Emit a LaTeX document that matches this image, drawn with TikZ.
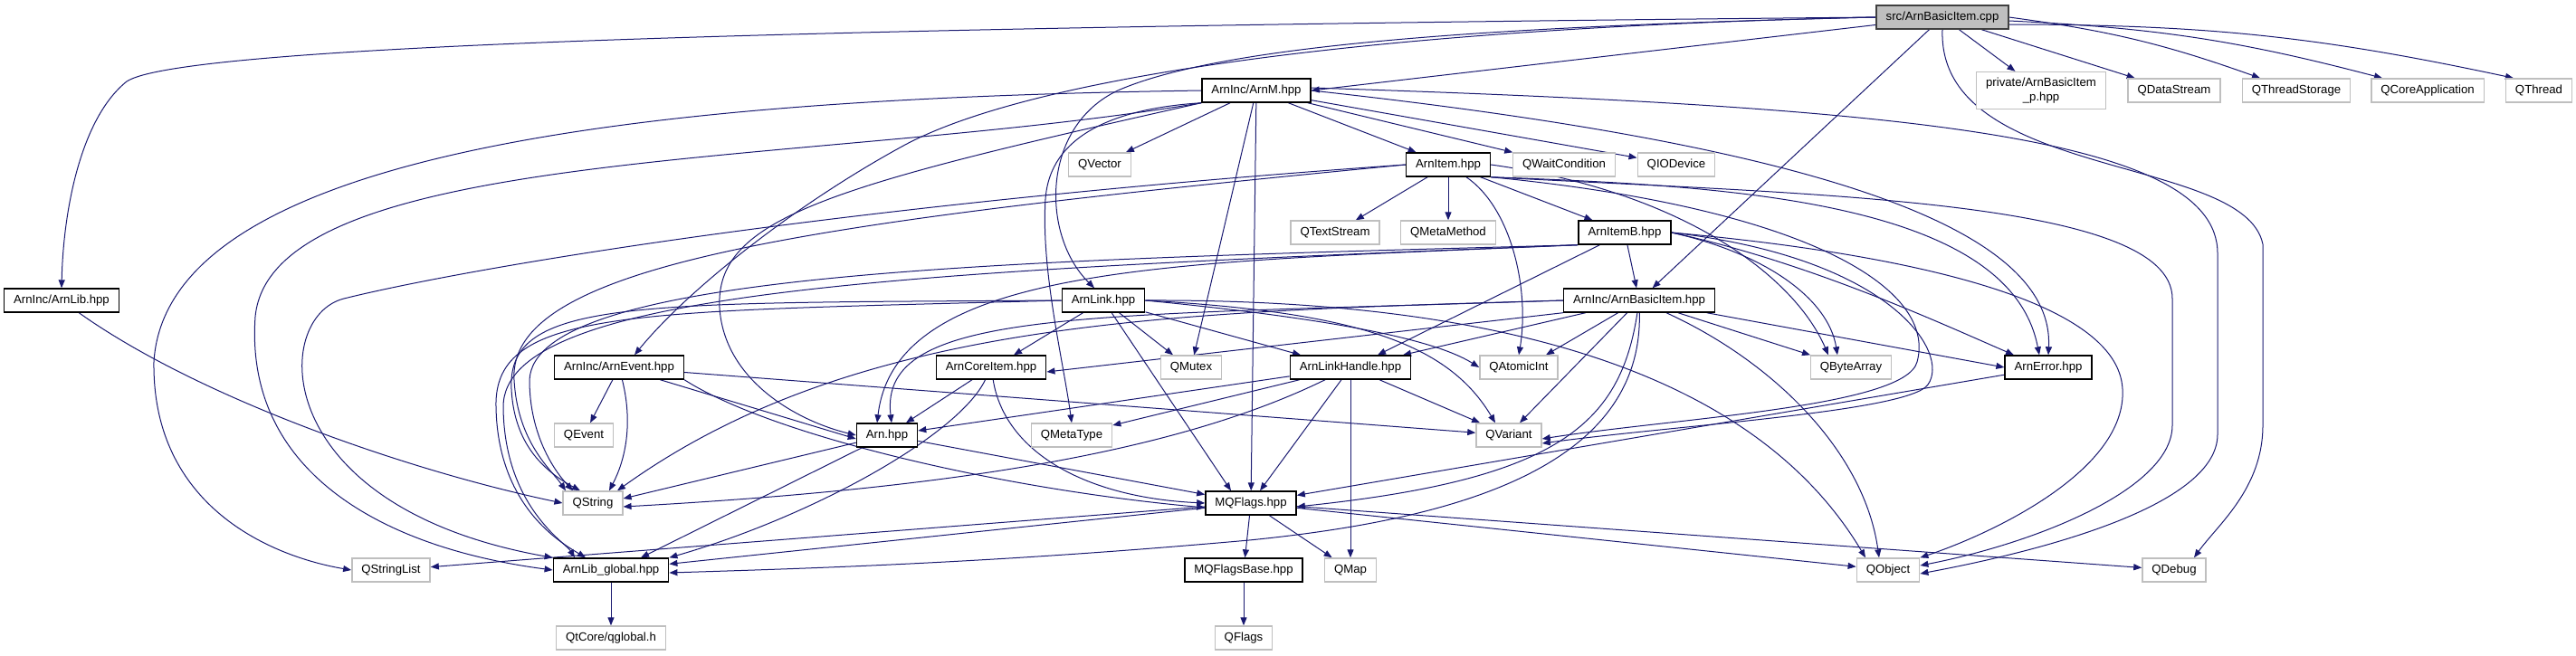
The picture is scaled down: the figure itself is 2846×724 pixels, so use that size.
\documentclass[tikz,border=0pt]{standalone}
\usepackage{fontspec}
\setmainfont{Liberation Sans}
\usepackage{xcolor}
\usetikzlibrary{arrows.meta, backgrounds}

\definecolor{edgeblue}{HTML}{191970}
\definecolor{boxgrey}{HTML}{BFBFBF}
\definecolor{rootline}{HTML}{404040}

\begin{document}
\begin{tikzpicture}[
    x=1pt, y=-1pt,
    every node/.style={font=\fontsize{13.2}{15.5}\selectfont, inner xsep=10.5pt, inner ysep=0pt, minimum height=26pt},
    filebox/.style={draw=black, line width=1.4pt, fill=white},
    extbox/.style={draw=boxgrey, line width=1.4pt, fill=white},
    rootbox/.style={draw=rootline, line width=1.4pt, fill=boxgrey},
    edge/.style={-{Triangle[length=9pt, width=7pt]}, edgeblue, line width=1pt}
]
\useasboundingbox (0,0) rectangle (2846,724);

% Rank 0 and 1
\node[rootbox] (src) at (2146,19) {src/ArnBasicItem.cpp};
\node[filebox] (arnm) at (1388,100) {ArnInc/ArnM.hpp};
\node[extbox, minimum height=41pt, align=center] (private) at (2255,100) {private/ArnBasicItem\\\_p.hpp};
\node[extbox] (qdatastream) at (2402,100) {QDataStream};
\node[extbox] (qthreadstorage) at (2537,100) {QThreadStorage};
\node[extbox] (qcoreapp) at (2682,100) {QCoreApplication};
\node[extbox] (qthread) at (2805,100) {QThread};

% Rank 2 and 3
\node[extbox] (qvector) at (1215,182) {QVector};
\node[filebox] (arnitem) at (1600,182) {ArnItem.hpp};
\node[extbox] (qwaitcond) at (1728,182) {QWaitCondition};
\node[extbox] (qiodevice) at (1852,182) {QIODevice};
\node[extbox] (qtextstream) at (1475,257) {QTextStream};
\node[extbox] (qmetamethod) at (1600,257) {QMetaMethod};
\node[filebox] (arnitemb) at (1795,257) {ArnItemB.hpp};

% Rank 4 and 5
\node[filebox] (arnlib) at (68,332) {ArnInc/ArnLib.hpp};
\node[filebox] (arnlink) at (1219,332) {ArnLink.hpp};
\node[filebox] (arnbasicitem) at (1811,332) {ArnInc/ArnBasicItem.hpp};
\node[filebox] (arnevent) at (684,406) {ArnInc/ArnEvent.hpp};
\node[filebox] (arncoreitem) at (1095,406) {ArnCoreItem.hpp};
\node[extbox] (qmutex) at (1316,406) {QMutex};
\node[filebox] (arnlinkhandle) at (1492,406) {ArnLinkHandle.hpp};
\node[extbox] (qatomicint) at (1678,406) {QAtomicInt};
\node[extbox] (qbytearray) at (2045,406) {QByteArray};
\node[filebox] (arnerror) at (2263,406) {ArnError.hpp};

% Rank 6 to 9
\node[extbox] (qevent) at (645,481) {QEvent};
\node[filebox] (arn) at (980,481) {Arn.hpp};
\node[extbox] (qmetatype) at (1184,481) {QMetaType};
\node[extbox] (qvariant) at (1667,481) {QVariant};
\node[extbox] (qstring) at (655,556) {QString};
\node[filebox] (mqflags) at (1382,556) {MQFlags.hpp};
\node[extbox] (qstringlist) at (432,630) {QStringList};
\node[filebox] (arnlibglobal) at (675,630) {ArnLib\_global.hpp};
\node[filebox] (mqflagsbase) at (1374,630) {MQFlagsBase.hpp};
\node[extbox] (qmap) at (1492,630) {QMap};
\node[extbox] (qobject) at (2086,630) {QObject};
\node[extbox] (qdebug) at (2402,630) {QDebug};
\node[extbox] (qglobal) at (675,705) {QtCore/qglobal.h};
\node[extbox] (qflags) at (1374,705) {QFlags};

\begin{pgfonlayer}{background}
% Short straight includes
\foreach \a/\b in {src/private, src/qdatastream, arnm/qvector, arnm/arnitem, arnm/qwaitcond,
    arnm/qiodevice, arnm/qmutex, arnm/mqflags, arnitem/qtextstream, arnitem/qmetamethod,
    arnitem/arnitemb, arnitemb/arnbasicitem, arnevent/qevent, arnevent/qvariant, arncoreitem/arn,
    arnlinkhandle/qmetatype, arnlinkhandle/mqflags, arnlinkhandle/qmap, arnlinkhandle/qvariant,
    arnlinkhandle/arn, arn/mqflags, arnerror/mqflags, mqflags/qstringlist, mqflags/arnlibglobal,
    mqflags/mqflagsbase, mqflags/qmap, mqflags/qobject, mqflags/qdebug, arnlibglobal/qglobal,
    mqflagsbase/qflags} {
    \draw[edge] (\a) -- (\b);
}

% src/ArnBasicItem.cpp
\draw[edge] (src.west) .. controls (900,30) and (200,50) .. (140,90) .. controls (90,130) and (70,230) .. (arnlib.north);
\draw[edge] (src) -- (arnm.east);
\draw[edge] (src.west) .. controls (1700,28) and (1360,45) .. (1235,100) .. controls (1150,140) and (1150,260) .. ([xshift=-10pt]arnlink.north);
\draw[edge] (src.west) .. controls (1550,30) and (1150,80) .. (1000,160) .. controls (880,225) and (760,320) .. ([xshift=17pt]arnevent.north);
\draw[edge] (src) -- (arnbasicitem);
\draw[edge] (src.east) to[bend left=6] ([xshift=-40pt]qthreadstorage.north);
\draw[edge] ([yshift=-4pt]src.east) to[bend left=6] ([xshift=-50pt]qcoreapp.north);
\draw[edge] ([yshift=-8pt]src.east) to[bend left=6] ([xshift=-28pt]qthread.north);
\draw[edge] (src.south) .. controls (2140,200) and (2480,170) .. (2500,270) -- (2500,470) .. controls (2500,540) and (2450,580) .. ([xshift=22pt]qdebug.north);

% ArnInc/ArnLib.hpp
\draw[edge] (arnlib) .. controls (220,440) and (450,520) .. (qstring.west);

% ArnInc/ArnM.hpp
\draw[edge] (arnm.west) .. controls (800,108) and (185,150) .. (170,400) .. controls (168,560) and (300,615) .. (qstringlist.west);
\draw[edge] (arnm.south west) .. controls (900,185) and (300,160) .. (282,350) .. controls (270,520) and (420,605) .. (arnlibglobal.west);
\draw[edge] (arnm.south west) .. controls (920,205) and (790,240) .. (795,340) .. controls (800,420) and (880,465) .. (arn.west);
\draw[edge] (arnm.south west) .. controls (1230,120) and (1160,150) .. (1155,220) .. controls (1150,300) and (1175,400) .. (qmetatype.north);
\draw[edge] (arnm.east) .. controls (2000,160) and (2270,250) .. (arnerror.north);
\draw[edge] ([yshift=3pt]arnm.east) .. controls (2100,118) and (2450,150) .. (2450,280) -- (2450,480) .. controls (2450,560) and (2250,610) .. ([yshift=-4pt]qobject.east);

% ArnItem.hpp
\draw[edge] (arnitem) .. controls (1670,230) and (1690,320) .. (qatomicint.north);
\draw[edge] (arnitem.west) .. controls (900,228) and (500,300) .. (380,330) .. controls (300,350) and (295,560) .. (arnlibglobal.north west);
\draw[edge] (arnitem.west) .. controls (900,245) and (560,290) .. (568,420) .. controls (572,490) and (610,520) .. ([xshift=-30pt]qstring.north);
\draw[edge] (arnitem.south east) .. controls (1900,205) and (2220,220) .. ([xshift=-10pt]arnerror.north);
\draw[edge] (arnitem.south east) .. controls (2000,230) and (2140,320) .. (2118,400) .. controls (2105,450) and (1850,462) .. ([yshift=-4pt]qvariant.east);
\draw[edge] (arnitem.east) .. controls (1850,210) and (1980,300) .. ([xshift=-25pt]qbytearray.north);
\draw[edge] (arnitem.south east) .. controls (2000,215) and (2400,220) .. (2400,330) -- (2400,470) .. controls (2400,540) and (2250,600) .. ([yshift=5pt]qobject.east);

% ArnItemB.hpp
\draw[edge] (arnitemb) -- ([xshift=30pt]arnlinkhandle.north);
\draw[edge] (arnitemb.south west) .. controls (1300,290) and (990,290) .. ([xshift=-11pt]arn.north);
\draw[edge] (arnitemb.south west) .. controls (1100,288) and (590,300) .. (585,420) .. controls (585,480) and (612,520) .. ([xshift=-22pt]qstring.north);
\draw[edge] (arnitemb.south west) .. controls (1000,300) and (555,320) .. (556,450) .. controls (557,560) and (625,600) .. ([xshift=-40pt]arnlibglobal.north);
\draw[edge] (arnitemb.east) .. controls (1950,280) and (2020,330) .. ([xshift=-15pt]qbytearray.north);
\draw[edge] (arnitemb.east) .. controls (2000,290) and (2150,360) .. ([xshift=-38pt]arnerror.north);
\draw[edge] (arnitemb.east) .. controls (2090,285) and (2155,390) .. (2130,425) .. controls (2110,455) and (1850,470) .. ([yshift=-9pt]qvariant.east);
\draw[edge] (arnitemb.east) .. controls (2100,280) and (2340,330) .. (2345,430) .. controls (2350,520) and (2200,590) .. (qobject.north east);

% ArnInc/ArnBasicItem.hpp
\draw[edge] (arnbasicitem.south west) -- ([yshift=-5pt]arncoreitem.east);
\draw[edge] (arnbasicitem) -- ([xshift=58pt]arnlinkhandle.north);
\draw[edge] (arnbasicitem) -- ([xshift=30pt]qatomicint.north);
\draw[edge] (arnbasicitem) -- ([xshift=12pt]qvariant.north);
\draw[edge] (arnbasicitem) .. controls (1790,470) and (1720,530) .. ([yshift=-4pt]mqflags.east);
\draw[edge] (arnbasicitem) .. controls (1815,520) and (1600,575) .. (1380,597) .. controls (1100,622) and (900,628) .. ([yshift=-3pt]arnlibglobal.east);
\draw[edge] (arnbasicitem) -- ([xshift=-45pt]qbytearray.north);
\draw[edge] (arnbasicitem) -- (arnerror.west);
\draw[edge] (arnbasicitem) .. controls (1960,400) and (2060,500) .. ([xshift=-10pt]qobject.north);
\draw[edge] (arnbasicitem.west) .. controls (1300,345) and (950,350) .. ([xshift=27pt]qstring.north);
\draw[edge] (arnbasicitem.west) .. controls (1200,350) and (970,340) .. ([xshift=5pt]arn.north);

% ArnLink.hpp
\draw[edge] (arnlink) -- ([xshift=25pt]arncoreitem.north);
\draw[edge] (arnlink) -- ([xshift=-20pt]qmutex.north);
\draw[edge] (arnlink) -- ([xshift=-55pt]arnlinkhandle.north);
\draw[edge] (arnlink) -- ([xshift=-22pt]mqflags.north);
\draw[edge] (arnlink.east) .. controls (1450,350) and (1580,372) .. (qatomicint.west);
\draw[edge] (arnlink.east) .. controls (1500,345) and (1600,380) .. ([xshift=-15pt]qvariant.north);
\draw[edge] (arnlink.east) .. controls (1700,330) and (1950,430) .. ([xshift=-25pt]qobject.north);
\draw[edge] (arnlink.west) .. controls (700,335) and (560,330) .. (565,430) .. controls (568,490) and (600,520) .. ([xshift=-14pt]qstring.north);
\draw[edge] (arnlink.west) .. controls (700,345) and (545,340) .. (548,450) .. controls (550,560) and (620,600) .. ([xshift=-28pt]arnlibglobal.north);

% ArnCoreItem.hpp, ArnLinkHandle.hpp, ArnInc/ArnEvent.hpp, Arn.hpp
\draw[edge] (arncoreitem) .. controls (1060,480) and (900,570) .. (arnlibglobal.north east);
\draw[edge] (arncoreitem) .. controls (1110,500) and (1200,550) .. (mqflags.west);
\draw[edge] (arnlinkhandle) .. controls (1300,500) and (1050,540) .. ([yshift=-4pt]qstring.east);
\draw[edge] (arnevent) .. controls (700,470) and (690,510) .. ([xshift=18pt]qstring.north);
\draw[edge] (arnevent) -- ([yshift=-4pt]arn.west);
\draw[edge] (arnevent.south east) .. controls (850,480) and (1100,540) .. ([yshift=-5pt]mqflags.west);
\draw[edge] (arn) -- ([yshift=5pt]qstring.east);
\draw[edge] (arn) -- ([xshift=33pt]arnlibglobal.north);
\end{pgfonlayer}

\end{tikzpicture}
\end{document}
